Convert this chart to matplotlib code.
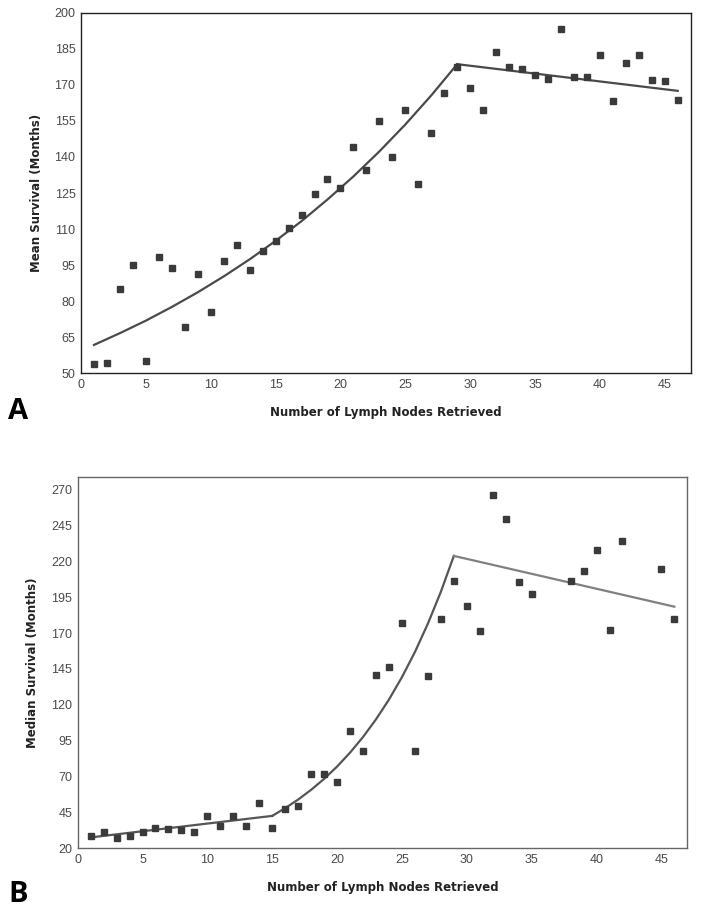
import matplotlib.pyplot as plt

# Panel A: mean survival by number of lymph nodes retrieved
nodes_a = list(range(1, 47))
mean_surv = [54, 54.3, 85.2, 95.2, 55, 98.4, 93.7, 69.4, 91.4, 75.4,
             96.7, 103.2, 93.1, 101, 105.2, 110.6, 115.8, 124.7, 131, 127.1,
             144.3, 134.6, 155, 140.1, 159.5, 128.6, 150.1, 166.5, 177.5, 168.8,
             159.5, 183.5, 177.5, 176.6, 174, 172.4, 193.4, 173.4, 173.1, 182.4,
             163.1, 179.1, 182.5, 172, 171.5, 163.6]
fit_a_x = [1, 3, 5, 7, 9, 11, 13, 15, 17, 19, 21, 23, 25, 27, 29, 46]
fit_a_y = [61.8, 66.7, 71.9, 77.6, 83.7, 90.3, 97.4, 105.1, 113.3, 122.3,
           131.9, 142.3, 153.5, 165.6, 178.6, 167.5]

# Panel B: median survival
nodes_b = list(range(1, 36)) + [38, 39, 40, 41, 42, 45, 46]
median_surv = [28.6, 31.6, 27.4, 28.6, 31.6, 34.4, 33.5, 32.6, 31.6, 42.6,
               35.6, 42.6, 35.6, 51.4, 34.4, 47.7, 49.6, 71.5, 71.5, 66.4,
               101.6, 87.6, 140.8, 146.6, 176.9, 87.6, 140.3, 180, 206.3, 188.8,
               171.6, 266, 249.2, 205.8, 197, 206.5, 213.1, 227.8, 172, 234.1,
               214.7, 179.7]
fit_b1_x = [1, 15]
fit_b1_y = [27.6, 42.6]
fit_b2_x = [15, 16, 17, 18, 19, 20, 21, 22, 23, 24, 25, 26, 27, 28, 29]
fit_b2_y = [42.6, 48.0, 54.0, 60.8, 68.4, 77.0, 86.7, 97.6, 109.9, 123.7,
            139.3, 156.8, 176.6, 198.8, 223.8]
fit_b3_x = [29, 46]
fit_b3_y = [223.8, 188.4]

xticks = [0, 5, 10, 15, 20, 25, 30, 35, 40, 45]
yticks_a = [50, 65, 80, 95, 110, 125, 140, 155, 170, 185, 200]
yticks_b = [20, 45, 70, 95, 120, 145, 170, 195, 220, 245, 270]

mk = '#3a3a3a'


def style(ax, frame):
    for s in ax.spines.values():
        s.set_color(frame)
        s.set_linewidth(1.0)
    ax.tick_params(length=0, labelsize=9, labelcolor='#4a4a4a', pad=4)
    for lab in ax.get_xticklabels() + ax.get_yticklabels():
        lab.set_family('Liberation Sans')
    ax.set_xlabel('Number of Lymph Nodes Retrieved', fontsize=8.5,
                  fontweight='bold', color='#222222', labelpad=11)


fig = plt.figure(figsize=(7.01, 9.16), dpi=100)

ax1 = fig.add_axes([0.1156, 0.5925, 0.8697, 0.3936])
ax1.plot(fit_a_x[:15], fit_a_y[:15], color='#4a4a4a', lw=1.6)
ax1.plot(fit_a_x[14:], fit_a_y[14:], color='#4a4a4a', lw=1.6)
ax1.plot(nodes_a, mean_surv, 's', color=mk, ms=4.8, ls='none')
ax1.set_xlim(0, 47)
ax1.set_ylim(50, 200)
ax1.set_xticks(xticks)
ax1.set_yticks(yticks_a)
ax1.set_ylabel('Mean Survival (Months)', fontsize=8.5, fontweight='bold',
               color='#222222', labelpad=8)
style(ax1, '#222222')

ax2 = fig.add_axes([0.1108, 0.0739, 0.8697, 0.4057])
ax2.plot(fit_b1_x, fit_b1_y, color='#555555', lw=1.6)
ax2.plot(fit_b2_x, fit_b2_y, color='#555555', lw=1.6)
ax2.plot(fit_b3_x, fit_b3_y, color='#808080', lw=1.6)
ax2.plot(nodes_b, median_surv, 's', color=mk, ms=4.8, ls='none')
ax2.set_xlim(0, 47)
ax2.set_ylim(20, 279)
ax2.set_xticks(xticks)
ax2.set_yticks(yticks_b)
ax2.set_ylabel('Median Survival (Months)', fontsize=8.5, fontweight='bold',
               color='#222222', labelpad=9)
style(ax2, '#666666')

fig.text(0.026, 1 - 411 / 916, 'A', fontsize=21, fontweight='bold',
         family='Open Sans', va='center', ha='center')
fig.text(0.026, 1 - 895 / 916, 'B', fontsize=21, fontweight='bold',
         family='Open Sans', va='center', ha='center')

fig.savefig('out.png', dpi=100)
